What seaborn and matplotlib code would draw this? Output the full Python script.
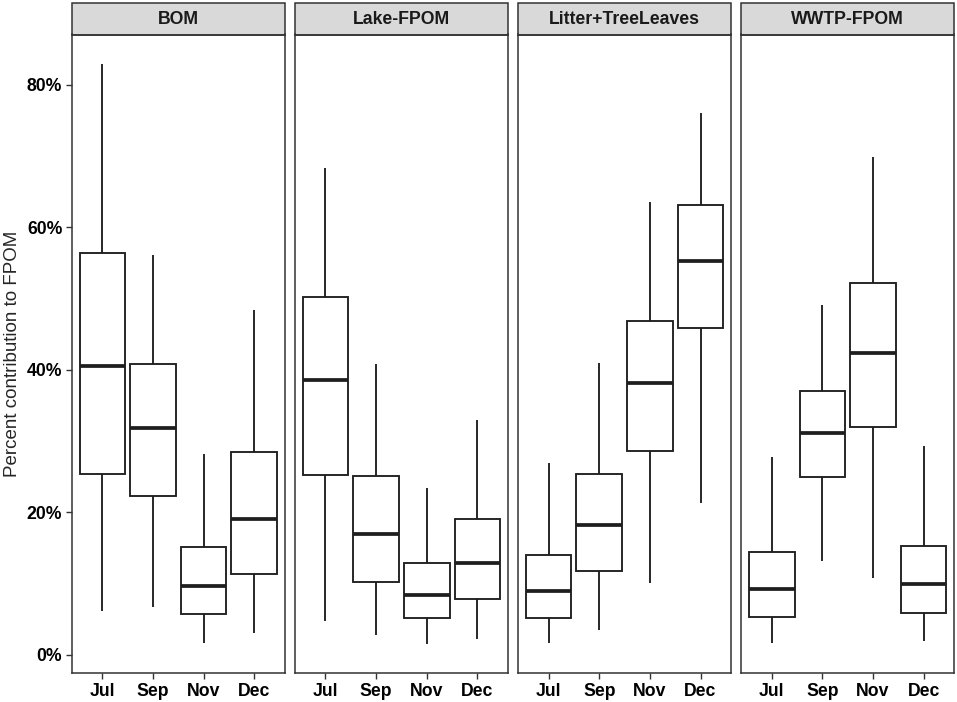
import matplotlib
matplotlib.use("Agg")
import matplotlib.pyplot as plt
from matplotlib.patches import Rectangle
from matplotlib.ticker import PercentFormatter
import numpy as np
import pandas as pd
import seaborn as sns

# five-number summaries: whisker low, Q1, median, Q3, whisker high (%)
sources = ["BOM", "Lake-FPOM", "Litter+TreeLeaves", "WWTP-FPOM"]
months = ["Jul", "Sep", "Nov", "Dec"]

bom = [
    [6.1, 25.3, 40.5, 56.4, 83.0],
    [6.7, 22.3, 31.8, 40.8, 56.1],
    [1.7, 5.7, 9.7, 15.1, 28.2],
    [3.0, 11.3, 19.1, 28.4, 48.4],
]
lake_fpom = [
    [4.7, 25.2, 38.6, 50.2, 68.4],
    [2.8, 10.2, 17.0, 25.1, 40.8],
    [1.5, 5.2, 8.4, 12.9, 23.4],
    [2.2, 7.8, 12.8, 19.0, 33.0],
]
litter_leaves = [
    [1.6, 5.2, 8.9, 14.0, 26.9],
    [3.5, 11.8, 18.2, 25.3, 40.9],
    [10.1, 28.6, 38.1, 46.9, 63.5],
    [21.3, 45.9, 55.3, 63.2, 76.0],
]
wwtp_fpom = [
    [1.7, 5.3, 9.2, 14.4, 27.7],
    [13.1, 25.0, 31.1, 37.0, 49.1],
    [10.8, 31.9, 42.3, 52.2, 69.9],
    [1.9, 5.9, 9.9, 15.2, 29.3],
]

rows = []
for src, groups in zip(sources, [bom, lake_fpom, litter_leaves, wwtp_fpom]):
    for m, vals in zip(months, groups):
        for v in vals:
            rows.append({"source": src, "month": m, "value": v})
df = pd.DataFrame(rows)

sns.set_style("white")
plt.rcParams["font.family"] = ["Liberation Sans", "DejaVu Sans"]

W, H = 957, 702
fig, axes = plt.subplots(1, 4, figsize=(W / 100, H / 100), dpi=100, sharey=True)
fig.subplots_adjust(left=72 / W, right=954 / W, bottom=1 - 673 / H, top=1 - 34.5 / H,
                    wspace=10.5 / 213)

dark = "#1E1E1E"
frame = "#333333"
lo, hi = df["value"].min(), df["value"].max()
pad = (hi - lo) * 0.05

for ax, src in zip(axes, sources):
    sub = df[df["source"] == src]
    sns.boxplot(data=sub, x="month", y="value", order=months, ax=ax,
                whis=(0, 100), width=0.9, showfliers=False, showcaps=False,
                color="white", linecolor=dark, linewidth=1.35,
                medianprops={"linewidth": 2.7, "color": dark})
    ax.set_xlim(-0.6, 3.6)
    ax.set_ylim(lo - pad, hi + pad)
    ax.set_xlabel("")
    ax.set_ylabel("")
    for s in ax.spines.values():
        s.set_visible(True)
        s.set_color(frame)
        s.set_linewidth(1.1)
    ax.tick_params(axis="both", length=4, width=1.0, color=frame, left=True, bottom=True,
                   labelsize=12.7, pad=3)
    for lab in ax.get_xticklabels() + ax.get_yticklabels():
        lab.set_fontweight("bold")
        lab.set_color("black")
    # facet strip
    sh = 31 / 638.5
    ax.add_patch(Rectangle((0, 1), 1, sh, transform=ax.transAxes, clip_on=False,
                           facecolor="#D9D9D9", edgecolor=frame, linewidth=1.1))
    ax.text(0.5, 1 + sh / 2, src, transform=ax.transAxes, ha="center", va="center",
            fontsize=12.7, fontweight="bold", color="#1A1A1A")

axes[0].set_yticks([0, 20, 40, 60, 80])
axes[0].yaxis.set_major_formatter(PercentFormatter(decimals=0))
for lab in axes[0].get_yticklabels():
    lab.set_fontweight("bold")
axes[0].set_ylabel("Percent contribution to FPOM", fontsize=13.5, labelpad=4)
for ax in axes[1:]:
    ax.tick_params(axis="y", left=False, labelleft=False)

fig.savefig("out.png", dpi=100)
